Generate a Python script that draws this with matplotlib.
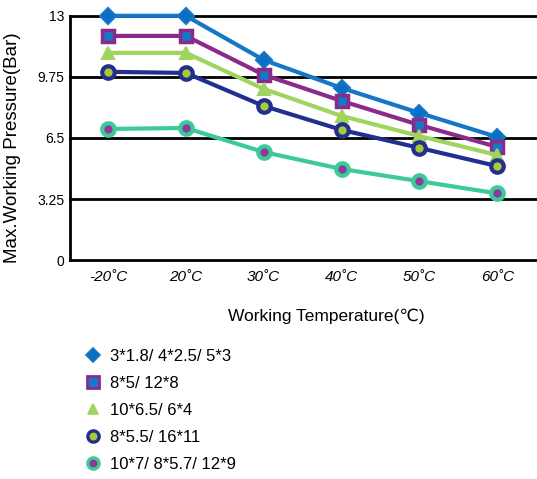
import matplotlib
matplotlib.use("Agg")
import matplotlib.pyplot as plt
from matplotlib.lines import Line2D

plt.rcParams['font.family'] = ['Liberation Sans', 'DejaVu Sans']

categories = ["-20˚C", "20˚C", "30˚C", "40˚C", "50˚C", "60˚C"]
yticks = [0, 3.25, 6.5, 9.75, 13]
ytick_labels = ["0", "3.25", "6.5", "9.75", "13"]

labels = ["3*1.8/ 4*2.5/ 5*3", "8*5/ 12*8", "10*6.5/ 6*4", "8*5.5/ 16*11", "10*7/ 8*5.7/ 12*9"]
s1 = [13.0, 13.0, 10.65, 9.16, 7.83, 6.55]
s2 = [11.93, 11.93, 9.86, 8.47, 7.19, 6.02]
s3 = [11.03, 11.03, 9.11, 7.67, 6.60, 5.59]
s4 = [10.02, 9.96, 8.20, 6.93, 5.97, 5.00]
s5 = [6.98, 7.03, 5.75, 4.85, 4.20, 3.55]
series = [s1, s2, s3, s4, s5]

styles = [
    dict(color="#1577c6", marker="D", mfc="#0a6fc4", mec="#1577c6", ms=8, mew=1.5),
    dict(color="#8c2a8c", marker="s", mfc="#1577c6", mec="#8c2a8c", ms=9, mew=2.5),
    dict(color="#9fd45e", marker="^", mfc="#9fd45e", mec="#9fd45e", ms=8, mew=1.5),
    dict(color="#222f8e", marker="o", mfc="#a8cb35", mec="#222f8e", ms=9, mew=3),
    dict(color="#3ccb98", marker="o", mfc="#8e3a98", mec="#3ccb98", ms=9, mew=3),
]

fig = plt.figure(figsize=(5.37, 4.79), dpi=100)
ax = fig.add_axes([0.130, 0.457, 0.870, 0.510])
x = list(range(len(categories)))

for yv in yticks:
    ax.axhline(yv, color="black", lw=2, zorder=1)

handles = []
for vals, st, lab in zip(series, styles, labels):
    ax.plot(x, vals, lw=3, zorder=3, **st)
    handles.append(Line2D([], [], linestyle="none", marker=st["marker"], mfc=st["mfc"],
                          mec=st["mec"], ms=st["ms"] * 0.9, mew=st["mew"] * 0.8, label=lab))

ax.set_xlim(-0.49, 5.51)
ax.set_ylim(0, 13)
ax.set_xticks(x)
ax.set_xticklabels(categories, fontsize=11, style="italic")
ax.set_yticks(yticks)
ax.set_yticklabels(ytick_labels, fontsize=10)
ax.tick_params(axis="both", length=0, pad=7)
ax.tick_params(axis="y", pad=4)
for s in ["top", "right", "bottom"]:
    ax.spines[s].set_visible(False)
ax.spines["left"].set_linewidth(2)
ax.set_ylabel("Max.Working Pressure(Bar)", fontsize=13.5)
ax.yaxis.set_label_coords(-0.105, 0.46)
ax.set_xlabel("Working Temperature(℃)", fontsize=12.5)
ax.xaxis.set_label_coords(0.55, -0.2)
for l in ax.lines:
    l.set_clip_on(False)

fig.legend(handles=handles, loc="upper left", bbox_to_anchor=(0.143, 0.286),
           frameon=False, fontsize=12, labelspacing=0.72, handletextpad=0.4,
           handlelength=1.2, borderaxespad=0)

fig.savefig("out.png", dpi=100)
